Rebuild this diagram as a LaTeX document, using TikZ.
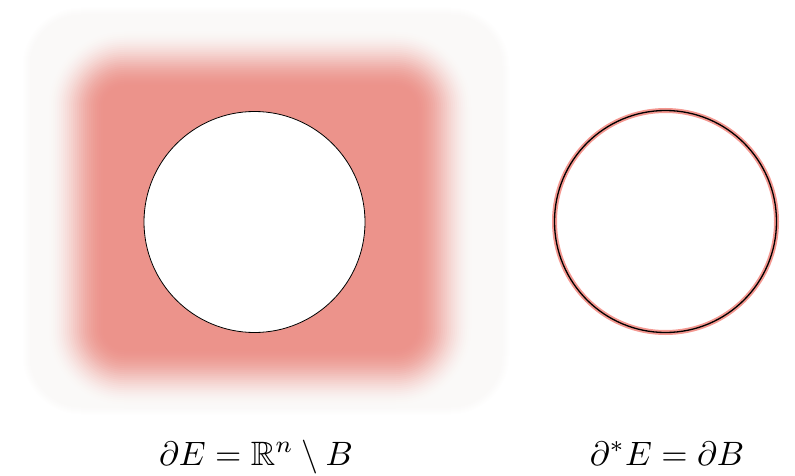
\documentclass[tikz,border=0pt]{standalone}
\usepackage{amsmath,amssymb}

\definecolor{halo}{RGB}{250,249,248}
\definecolor{blush}{RGB}{236,147,139}
\definecolor{rim}{RGB}{240,118,108}

\begin{document}
\begin{tikzpicture}[x=1pt,y=1pt, lbl/.style={scale=3.38, anchor=base}]
    \useasboundingbox (0,0) rectangle (795,475);

    % faint halo behind the set
    \foreach \k in {0,...,8} {
      \pgfmathsetmacro{\mix}{12.5*\k}
      \fill[halo!\mix!white, rounded corners=(60-\k)*1pt]
        (22+\k,60+\k) rectangle (510-\k,468-\k);
    }

    % blurred set E
    \foreach \k in {0,...,30} {
      \pgfmathsetmacro{\off}{-30+2*\k}
      \pgfmathsetmacro{\rad}{max(50-\off,4)}
      \pgfmathsetmacro{\mix}{50-50*cos(6*\k)}
      \fill[blush!\mix!halo, rounded corners=\rad pt]
        (75+\off,97+\off) rectangle (445-\off,417-\off);
    }

    % the ball B
    \draw[fill=white, line width=0.8pt] (254.5,253) circle[radius=110.5];

    % reduced boundary only
    \draw[rim, line width=5pt, opacity=0.75] (665.5,253.5) circle[radius=111];
    \draw[line width=1.3pt] (665.5,253.5) circle[radius=111];

    % labels
    \node[lbl] (bdry) at (256,10) {$\partial E = \mathbb{R}^n \setminus B$};
    \node[lbl] (redbdry) at (667,10) {$\partial^* E = \partial B$};
\end{tikzpicture}
\end{document}
